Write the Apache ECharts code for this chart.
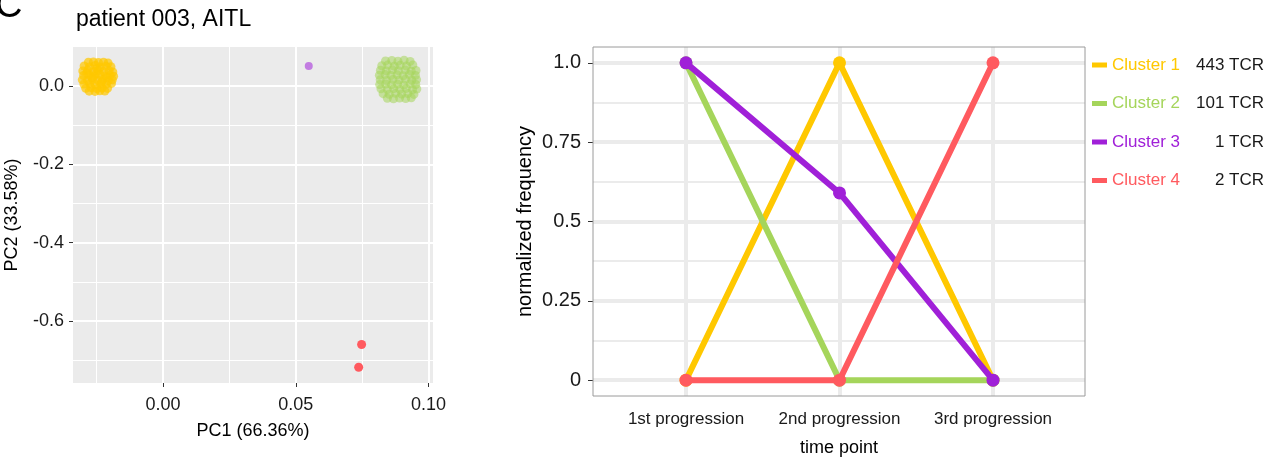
<!DOCTYPE html>
<html>
<head>
<meta charset="utf-8">
<script src="https://cdn.jsdelivr.net/npm/echarts@6/dist/echarts.min.js"></script>
<style>
html,body{margin:0;padding:0;background:#fff;}
#chart{width:1273px;height:458px;}
</style>
</head>
<body>
<div id="chart"></div>
<script>
// ---------- DATA ----------
const panelTitle = 'patient 003, AITL';
const pcXName = 'PC1 (66.36%)';
const pcYName = 'PC2 (33.58%)';
const timeCategories = ['1st progression', '2nd progression', '3rd progression'];
const clusterNames = ['Cluster 1', 'Cluster 2', 'Cluster 3', 'Cluster 4'];
const tcrCounts = [443, 101, 1, 2];
const cluster1Freq = [0, 1, 0];
const cluster2Freq = [1, 0, 0];
const cluster3Freq = [1, 0.59, 0];
const cluster4Freq = [0, 0, 1];

// PCA points per cluster [PC1, PC2]
const cluster1PCA = [
  [-0.0281,0.0605],[-0.0262,0.0612],[-0.0243,0.0598],[-0.0224,0.0609],[-0.0207,0.0586],
  [-0.0297,0.0512],[-0.0277,0.0487],[-0.0255,0.0523],[-0.0236,0.0478],[-0.0215,0.0505],[-0.0196,0.0491],
  [-0.0302,0.0385],[-0.0283,0.0402],[-0.0261,0.0371],[-0.0244,0.0396],[-0.0223,0.0368],[-0.0203,0.0389],[-0.0189,0.0357],
  [-0.0299,0.0268],[-0.0279,0.0284],[-0.0258,0.0259],[-0.0237,0.0291],[-0.0218,0.0263],[-0.0199,0.0277],[-0.0186,0.0248],
  [-0.0304,0.0158],[-0.0284,0.0142],[-0.0265,0.0171],[-0.0246,0.0149],[-0.0227,0.0166],[-0.0206,0.0138],[-0.0191,0.0161],
  [-0.0298,0.0048],[-0.0276,0.0061],[-0.0256,0.0037],[-0.0235,0.0059],[-0.0214,0.0042],[-0.0194,0.0066],
  [-0.0291,-0.0059],[-0.0271,-0.0041],[-0.0249,-0.0068],[-0.0229,-0.0047],[-0.0209,-0.0062],
  [-0.0278,-0.0132],[-0.0256,-0.0138],[-0.0238,-0.0121],[-0.0219,-0.0129],
  [-0.0252,0.0315],[-0.0268,0.0215],[-0.0231,0.0102],[-0.0248,0.0448],[-0.0212,0.0215],[-0.0287,0.0335]
];
const cluster2PCA = [
  [0.0838,0.0641],[0.0862,0.0652],[0.0885,0.0633],[0.0908,0.0657],[0.0931,0.0628],
  [0.0824,0.0518],[0.0846,0.0534],[0.0871,0.0507],[0.0893,0.0529],[0.0917,0.0512],[0.0941,0.0538],
  [0.0819,0.0402],[0.0841,0.0385],[0.0864,0.0413],[0.0887,0.0391],[0.0912,0.0408],[0.0935,0.0379],[0.0953,0.0397],
  [0.0815,0.0276],[0.0837,0.0291],[0.0859,0.0268],[0.0882,0.0287],[0.0905,0.0262],[0.0928,0.0294],[0.0951,0.0271],
  [0.0818,0.0157],[0.0842,0.0142],[0.0866,0.0168],[0.0889,0.0151],[0.0913,0.0173],[0.0937,0.0146],[0.0955,0.0162],
  [0.0816,0.0036],[0.0839,0.0052],[0.0861,0.0029],[0.0884,0.0047],[0.0907,0.0024],[0.0931,0.0055],[0.0952,0.0038],
  [0.0821,-0.0073],[0.0845,-0.0091],[0.0869,-0.0068],[0.0892,-0.0087],[0.0916,-0.0062],[0.0940,-0.0095],[0.0956,-0.0078],
  [0.0829,-0.0196],[0.0852,-0.0211],[0.0876,-0.0188],[0.0899,-0.0205],[0.0922,-0.0192],[0.0945,-0.0214],
  [0.0845,-0.0312],[0.0868,-0.0325],[0.0891,-0.0306],[0.0914,-0.0321],[0.0935,-0.0301]
];
const cluster3PCA = [[0.0549, 0.051]];
const cluster4PCA = [[0.0748, -0.660], [0.0737, -0.718]];

// ---------- STYLE ----------
const colors = ['#FFC800', '#A5D55B', '#A020D8', '#FF5A5F'];
const FONT = '"Liberation Sans", Arial, Helvetica, sans-serif';
const TXT = '#1a1a1a';

const chart = echarts.init(document.getElementById('chart'), null, {renderer: 'canvas'});

// Left panel geometry (pixel space)
const L = {left: 73, top: 47, width: 360, height: 336};
const pxPerX = 2655;   // px per PC1 unit
const pxPerY = 391.7;  // px per PC2 unit
const x0px = 163;      // pixel of PC1 = 0
const y0px = 86;       // pixel of PC2 = 0
const lxMin = -(x0px - L.left) / pxPerX;
const lxMax = (L.left + L.width - x0px) / pxPerX;
const lyMax = (y0px - L.top) / pxPerY;
const lyMin = -(L.top + L.height - y0px) / pxPerY;

// Right panel geometry
const R = {left: 593, top: 47, width: 492, height: 349};
const ryPx = R.height / 1.1;
const ry1 = R.top + 0.05 * ryPx;
const catLeft = 686, catRight = 993;

function hiddenAxis(gi, extra) {
  return Object.assign({gridIndex: gi, type: 'value', show: false}, extra || {});
}
function G(o) {
  return Object.assign({outerBoundsMode: 'none', containLabel: false}, o);
}

const grids = [
  G({left: L.left, top: L.top, width: L.width, height: L.height, show: true, backgroundColor: '#EBEBEB', borderWidth: 0, z: 0}),
  G({left: x0px, top: L.top, width: 0.1 * pxPerX, height: L.height}),
  G({left: x0px - 0.025 * pxPerX, top: L.top, width: 0.1 * pxPerX, height: L.height}),
  G({left: L.left, top: y0px, width: L.width, height: 0.6 * pxPerY}),
  G({left: L.left, top: y0px + 0.1 * pxPerY, width: L.width, height: 0.6 * pxPerY}),
  G({left: R.left, top: R.top, width: R.width, height: R.height, show: true, backgroundColor: 'transparent', borderColor: '#9a9a9a', borderWidth: 1, z: 5}),
  G({left: R.left, top: ry1, width: R.width, height: ryPx}),
  G({left: catLeft, top: R.top, width: catRight - catLeft, height: R.height})
];

const nameStyle = {fontFamily: FONT, fontSize: 18, color: '#000'};

const xAxes = [
  {gridIndex: 0, type: 'value', min: lxMin, max: lxMax, show: true,
   axisLine: {show: false}, axisTick: {show: false}, axisLabel: {show: false}, splitLine: {show: false},
   name: pcXName, nameLocation: 'middle', nameGap: 39, nameTextStyle: nameStyle},
  {gridIndex: 1, type: 'value', min: 0, max: 0.1, interval: 0.05, z: 1,
   axisLine: {show: false},
   axisTick: {show: true, length: 4, lineStyle: {color: '#333', width: 1}},
   axisLabel: {show: true, margin: 13, fontFamily: FONT, fontSize: 18, color: TXT, formatter: v => v.toFixed(2)},
   splitLine: {show: true, lineStyle: {color: '#ffffff', width: 2}}},
  {gridIndex: 2, type: 'value', min: -0.025, max: 0.075, interval: 0.05, z: 1,
   axisLine: {show: false}, axisTick: {show: false}, axisLabel: {show: false},
   splitLine: {show: true, lineStyle: {color: '#ffffff', width: 1}}},
  hiddenAxis(3),
  hiddenAxis(4),
  {gridIndex: 5, type: 'value', min: 0, max: 1, show: true,
   axisLine: {show: false}, axisTick: {show: false}, axisLabel: {show: false}, splitLine: {show: false},
   name: 'time point', nameLocation: 'middle', nameGap: 43, nameTextStyle: nameStyle},
  hiddenAxis(6),
  {gridIndex: 7, type: 'category', data: timeCategories, boundaryGap: false, z: 1,
   axisLine: {show: false},
   axisTick: {show: true, length: 5, lineStyle: {color: '#333', width: 1}},
   axisLabel: {show: true, interval: 0, hideOverlap: false, margin: 15, fontFamily: FONT, fontSize: 17, color: TXT},
   splitLine: {show: true, interval: 0, lineStyle: {color: '#EBEBEB', width: 4}}}
];

const yAxes = [
  {gridIndex: 0, type: 'value', min: lyMin, max: lyMax, show: true,
   axisLine: {show: false}, axisTick: {show: false}, axisLabel: {show: false}, splitLine: {show: false},
   name: pcYName, nameLocation: 'middle', nameGap: 52, nameTextStyle: nameStyle},
  hiddenAxis(1),
  hiddenAxis(2),
  {gridIndex: 3, type: 'value', min: -0.6, max: 0, interval: 0.2, z: 1,
   axisLine: {show: false},
   axisTick: {show: true, length: 4, lineStyle: {color: '#333', width: 1}},
   axisLabel: {show: true, margin: 9, fontFamily: FONT, fontSize: 18, color: TXT, formatter: v => v.toFixed(1)},
   splitLine: {show: true, lineStyle: {color: '#ffffff', width: 2}}},
  {gridIndex: 4, type: 'value', min: -0.7, max: -0.1, interval: 0.2, z: 1,
   axisLine: {show: false}, axisTick: {show: false}, axisLabel: {show: false},
   splitLine: {show: true, lineStyle: {color: '#ffffff', width: 1}}},
  {gridIndex: 5, type: 'value', min: 0, max: 1, show: true,
   axisLine: {show: false}, axisTick: {show: false}, axisLabel: {show: false}, splitLine: {show: false},
   name: 'normalized frequency', nameLocation: 'middle', nameGap: 58,
   nameTextStyle: {fontFamily: FONT, fontSize: 20, color: '#000'}},
  {gridIndex: 6, type: 'value', min: 0, max: 1, interval: 0.25, z: 1,
   axisLine: {show: false},
   axisTick: {show: true, length: 5, lineStyle: {color: '#333', width: 1}},
   axisLabel: {show: true, margin: 12, fontFamily: FONT, fontSize: 20, color: TXT,
     formatter: v => (v === 0 ? '0' : (v === 1 ? '1.0' : String(v)))},
   minorTick: {show: false, splitNumber: 2},
   splitLine: {show: true, lineStyle: {color: '#EBEBEB', width: 4}},
   minorSplitLine: {show: true, lineStyle: {color: '#EBEBEB', width: 2}}},
  {gridIndex: 7, type: 'value', min: -0.05, max: 1.05, show: false}
];

const pcaSets = [cluster1PCA, cluster2PCA, cluster3PCA, cluster4PCA];
const pcaOpacity = [0.7, 0.55, 0.55, 1];
const pcaSize = [9, 9, 8, 9];
const freqSets = [cluster1Freq, cluster2Freq, cluster3Freq, cluster4Freq];

const series = [];
pcaSets.forEach((d, i) => {
  series.push({
    type: 'scatter', name: 'pca-' + (i + 1), xAxisIndex: 0, yAxisIndex: 0,
    data: d, symbol: 'circle', symbolSize: pcaSize[i], z: 3,
    itemStyle: {color: colors[i], opacity: pcaOpacity[i]},
    emphasis: {disabled: true}, silent: true
  });
});
freqSets.forEach((d, i) => {
  series.push({
    type: 'line', name: clusterNames[i], xAxisIndex: 7, yAxisIndex: 7,
    data: d, symbol: 'circle', symbolSize: 13, showSymbol: true, z: 3 + i * 0.01,
    lineStyle: {color: colors[i], width: 6},
    itemStyle: {color: colors[i]},
    emphasis: {disabled: true}, silent: true
  });
});

const legendData = clusterNames.map((n, i) => ({
  name: n,
  textStyle: {
    rich: {
      a: {color: colors[i], fontFamily: FONT, fontSize: 17, width: 72, lineHeight: 20},
      b: {color: TXT, fontFamily: FONT, fontSize: 17, width: 80, align: 'right', lineHeight: 20}
    }
  }
}));

const option = {
  animation: false,
  backgroundColor: '#ffffff',
  title: {
    text: panelTitle, left: 71, top: 3,
    textStyle: {fontFamily: FONT, fontSize: 23, fontWeight: 'normal', color: '#000'}
  },
  graphic: [{
    type: 'text', left: -5, top: -12,
    style: {text: 'C', fontFamily: FONT, fontSize: 38, fill: '#000'}
  }],
  legend: {
    orient: 'vertical', left: 1092, top: 55, padding: 0,
    icon: 'rect', itemWidth: 15, itemHeight: 5, itemGap: 18.5,
    selectedMode: false,
    data: legendData,
    formatter: name => {
      const i = clusterNames.indexOf(name);
      return '{a|' + name + '}{b|' + tcrCounts[i] + ' TCR}';
    },
    textStyle: {fontFamily: FONT, fontSize: 17, lineHeight: 20}
  },
  grid: grids,
  xAxis: xAxes,
  yAxis: yAxes,
  series: series
};
chart.setOption(option);
</script>
</body>
</html>
